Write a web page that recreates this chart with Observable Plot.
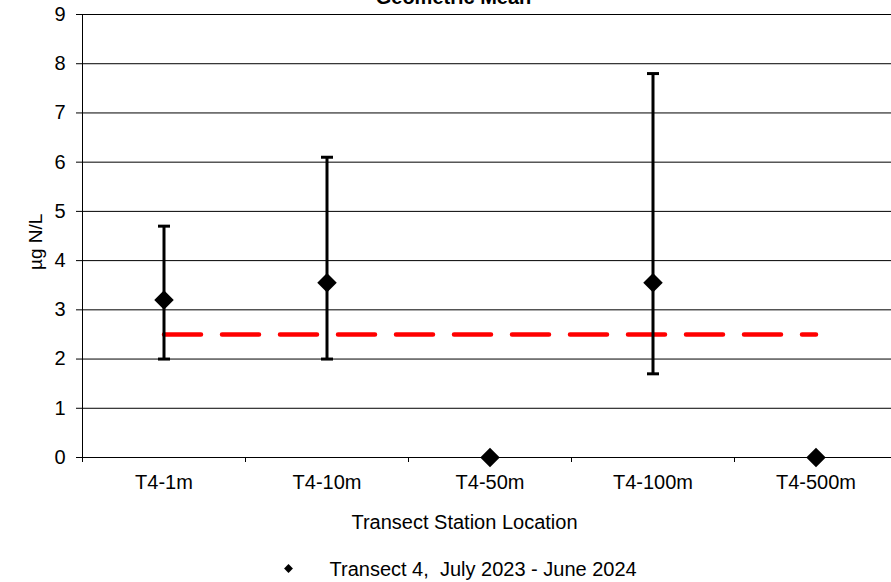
<!DOCTYPE html>
<html><head><meta charset="utf-8">
<script src="https://cdn.jsdelivr.net/npm/d3@7"></script>
<script src="https://cdn.jsdelivr.net/npm/@observablehq/plot@0.6"></script>
<style>body{margin:0;background:#fff}</style>
</head><body><div id="chart"></div>
<script>
const categories = ["T4-1m", "T4-10m", "T4-50m", "T4-100m", "T4-500m"];
const means = [3.2, 3.55, 0, 3.55, 0];
const lowers = [2.0, 2.0, null, 1.7, null];
const uppers = [4.7, 6.1, null, 7.8, null];
const threshold = 2.5;
const yTicks = [0, 1, 2, 3, 4, 5, 6, 7, 8, 9];
const title = "Geometric Mean";
const xLabel = "Transect Station Location";
const yLabel = "µg N/L";
const legendLabel = "Transect 4,\u00a0 July 2023 - June 2024";

const data = categories.map((c, i) => ({i, c, mean: means[i], lo: lowers[i], hi: uppers[i]}));
const bars = data.filter(d => d.lo != null);
const bounds = d3.range(categories.length + 1).map(i => i - 0.5);
const capSymbol = {draw(ctx, size) { const r = Math.sqrt(size / Math.PI); ctx.moveTo(-r, 0); ctx.lineTo(r, 0); }};
const font = "'Liberation Sans', Arial, sans-serif";

const chart = Plot.plot({
  width: 891, height: 582,
  marginLeft: 82, marginRight: -6, marginTop: 14, marginBottom: 125,
  style: {fontFamily: font, background: "white", overflow: "hidden", color: "#000"},
  x: {domain: [-0.5, categories.length - 0.5]},
  y: {domain: [0, 9]},
  marks: [
    Plot.ruleY(yTicks.slice(1), {stroke: "#000", strokeWidth: 1}),
    Plot.ruleY([0], {stroke: "#000"}),
    Plot.ruleX([-0.5], {y1: 0, y2: 9, stroke: "#000"}),
    Plot.axisY({ticks: yTicks, tickSize: 6, tickPadding: 11, fontSize: 20, label: null}),
    Plot.axisX({ticks: bounds, tickSize: 5, tickFormat: () => "", label: null}),
    Plot.axisX({ticks: d3.range(categories.length), tickSize: 0, tickPadding: 17, tickFormat: i => categories[i], fontSize: 20, label: null}),
    Plot.line([0, categories.length - 1], {x: d => d, y: () => threshold, stroke: "#ff0000", strokeWidth: 4.5, strokeDasharray: "37,21", strokeLinecap: "round"}),
    Plot.ruleX(bars, {x: "i", y1: "lo", y2: "hi", stroke: "#000", strokeWidth: 3}),
    Plot.dot(bars, {x: "i", y: "lo", symbol: capSymbol, r: 6, stroke: "#000", strokeWidth: 3, fill: "none"}),
    Plot.dot(bars, {x: "i", y: "hi", symbol: capSymbol, r: 6, stroke: "#000", strokeWidth: 3, fill: "none"}),
    Plot.dot(data, {x: "i", y: "mean", symbol: "diamond2", r: 8.8, fill: "#000", stroke: "none"}),
    Plot.text([title], {text: d => d, frameAnchor: "top", dx: -36.5, dy: -11, lineAnchor: "bottom", fontSize: 20, fontWeight: "bold"}),
    Plot.text([xLabel], {text: d => d, frameAnchor: "bottom", dx: -25.5, dy: 71, lineAnchor: "bottom", fontSize: 20}),
    Plot.text([yLabel], {text: d => d, frameAnchor: "left", dx: -47, dy: 34, rotate: -90, fontSize: 19}),
    Plot.dot([legendLabel], {frameAnchor: "bottom-left", dx: 206, dy: 111, symbol: "diamond2", r: 4, fill: "#000", stroke: "none"}),
    Plot.text([legendLabel], {text: d => d, frameAnchor: "bottom-left", dx: 247, dy: 118, lineAnchor: "bottom", textAnchor: "start", fontSize: 20})
  ]
});
document.getElementById("chart").appendChild(chart);
</script>
</body></html>
